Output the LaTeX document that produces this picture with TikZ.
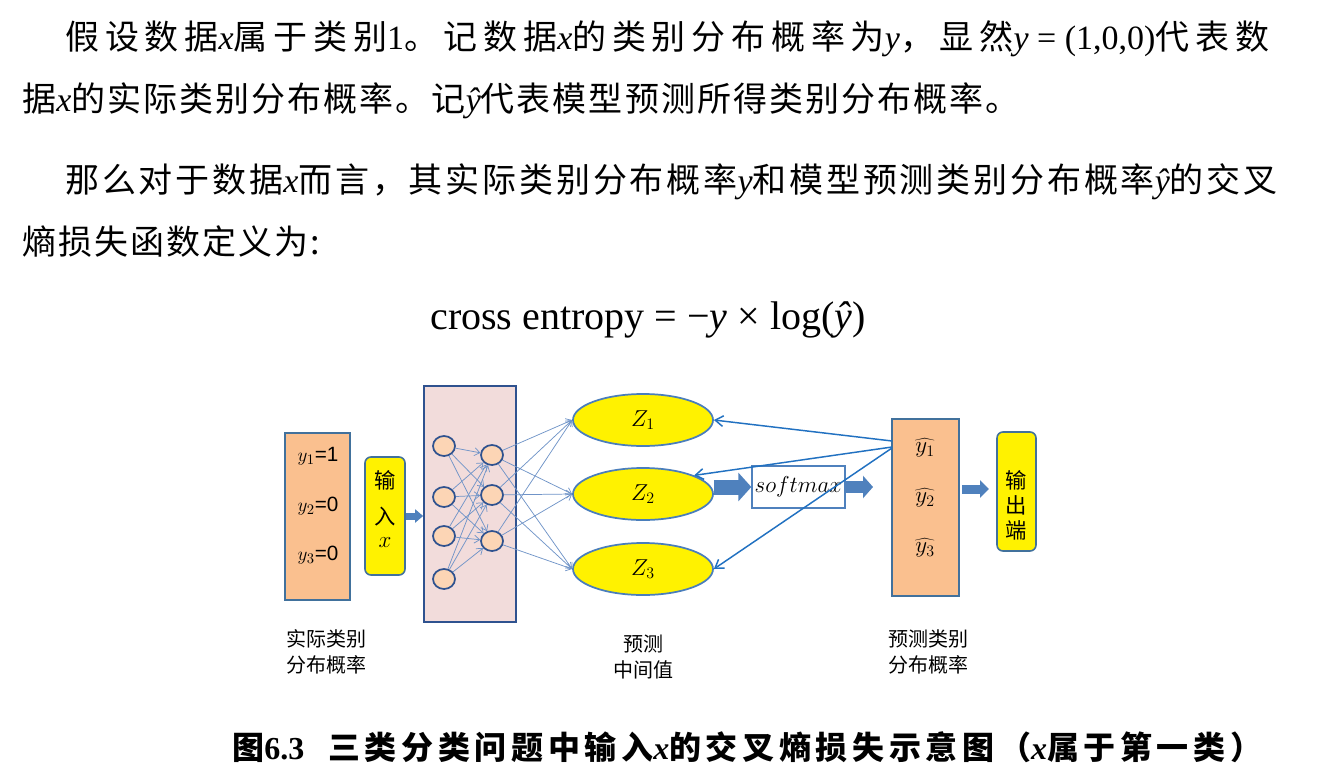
\documentclass[tikz,border=0pt]{standalone}
\usepackage{fontspec}
\setmainfont{Liberation Serif}
\newfontfamily\cjk[LetterSpace=6]{Noto Sans CJK SC}
\newfontfamily\cjkja[LetterSpace=17]{Noto Sans CJK SC}
\newfontfamily\cjkjb[LetterSpace=8.3]{Noto Sans CJK SC}
\newfontfamily\capfont[LetterSpace=14.5]{Noto Sans CJK SC}
\newfontfamily\cjklab{Noto Sans CJK SC}
\newfontfamily\lab{Liberation Sans}
\newcommand\mi[1]{{\rmfamily\itshape #1}}
\newcommand\mr[1]{{\rmfamily #1}}
\usetikzlibrary{arrows.meta,shapes.geometric}
\definecolor{peachc}{HTML}{FAC08F}
\definecolor{bordblue}{HTML}{41719C}
\definecolor{pinkc}{HTML}{F2DCDB}
\definecolor{neuronc}{HTML}{FCD5B5}
\definecolor{neurob}{HTML}{2F528F}
\definecolor{thinarr}{HTML}{7094C8}
\definecolor{fbarr}{HTML}{2171C1}
\definecolor{blkc}{HTML}{4F81BD}
\definecolor{zbord}{HTML}{4A7EBB}
\begin{document}
\begin{tikzpicture}[x=0.75pt,y=-0.75pt,
  bodyline/.style={anchor=base west,inner sep=0pt,font=\fontsize{25.5pt}{30pt}\selectfont},
  peachbox/.style={draw=bordblue,fill=peachc,line width=1.3pt,inner sep=0pt},
  yellowbox/.style={draw=bordblue,fill=yellow,line width=1.2pt,rounded corners=4.5pt,inner sep=0pt},
  zell/.style={ellipse,draw=zbord,fill=yellow,line width=1.3pt,minimum width=105pt,minimum height=39pt,inner sep=0pt,font=\fontsize{17pt}{20pt}\selectfont},
  neuron/.style={ellipse,draw=neurob,fill=neuronc,line width=1.3pt,minimum width=16.5pt,minimum height=15pt,inner sep=0pt},
  thinarrow/.style={draw=thinarr,line width=0.55pt,-{Straight Barb[length=4pt,width=6pt]}},
  fbarrow/.style={draw=fbarr,line width=1.1pt,-{Straight Barb[length=6pt,width=8pt]}},
  boxtext/.style={inner sep=0pt,font=\fontsize{15.5pt}{18pt}\selectfont},
  hattext/.style={inner sep=0pt,font=\fontsize{17.5pt}{20pt}\selectfont},
  vtext/.style={inner sep=0pt,font=\cjklab\fontsize{16pt}{18pt}\selectfont},
  bottomlab/.style={align=center,inner sep=0pt,font=\cjklab\fontsize{15pt}{19pt}\selectfont}
]
\useasboundingbox (0,0) rectangle (1319,781);
\fill[white] (0,0) rectangle (1319,781);

% body text
\node[bodyline] (l1) at (65,50) {\cjkja 假设数据\mi{x}属于类别\mr{1}。记数据\mi{x}的类别分布概率为\mi{y}，显然\mi{y}\mr{ = (1,0,0)}代表数};
\node[bodyline] (l2) at (22,112) {\cjk 据\mi{x}的实际类别分布概率。记\mi{ŷ}代表模型预测所得类别分布概率。};
\node[bodyline] (l3) at (65,192) {\cjkjb 那么对于数据\mi{x}而言，其实际类别分布概率\mi{y}和模型预测类别分布概率\mi{ŷ}的交叉};
\node[bodyline] (l4) at (22,254) {\cjk 熵损失函数定义为:};
\node[inner sep=0pt,font=\fontsize{30pt}{34pt}\selectfont] (formula) at (648,320) {cross entropy = −\textit{y} × log(\textit{ŷ})};

% boxes
\node[peachbox,minimum width=48.75pt,minimum height=125.25pt] (ybox) at (317.5,516.5) {};
\node[boxtext] (y1) at (318,456) {$y_1${\lab =1}};
\node[boxtext] (y2) at (318,506) {$y_2${\lab =0}};
\node[boxtext] (y3) at (318,555) {$y_3${\lab =0}};

\node[yellowbox,minimum width=30pt,minimum height=88.5pt] (inbox) at (385,516) {};
\node[vtext] (in1) at (385,480) {输};
\node[vtext] (in2) at (385,517) {入};
\node[vtext,font=\fontsize{16pt}{18pt}\selectfont] (in3) at (385,543) {$x$};

\node[draw=neurob,fill=pinkc,line width=1.3pt,minimum width=69pt,minimum height=177pt,inner sep=0pt] (net) at (470,504) {};

\node[neuron] (i1) at (444,446) {};
\node[neuron] (i2) at (444,497) {};
\node[neuron] (i3) at (444,536) {};
\node[neuron] (i4) at (444,579) {};
\node[neuron] (h1) at (492,455) {};
\node[neuron] (h2) at (492,495) {};
\node[neuron] (h3) at (492,541) {};

\node[zell] (Z1) at (643,420) {$Z_1$};
\node[zell] (Z2) at (643,494) {$Z_2$};
\node[zell] (Z3) at (643,569) {$Z_3$};

\node[draw=blkc,fill=white,line width=1pt,minimum width=69.75pt,minimum height=31.5pt,inner sep=0pt,font=\fontsize{16pt}{18pt}\selectfont] (soft) at (798.5,487) {$softmax$};

\node[peachbox,minimum width=50.25pt,minimum height=132.75pt] (rbox) at (925.5,507.5) {};
\node[hattext] (r1) at (925,448) {$\widehat{y_1}$};
\node[hattext] (r2) at (925,498) {$\widehat{y_2}$};
\node[hattext] (r3) at (925,548) {$\widehat{y_3}$};

\node[yellowbox,minimum width=29.25pt,minimum height=89.25pt] (outbox) at (1016.5,491.5) {};
\node[vtext] (o1) at (1016.5,480) {输};
\node[vtext] (o2) at (1016.5,505) {出};
\node[vtext] (o3) at (1016.5,530) {端};

% network connections
\foreach \i in {1,...,4}{\foreach \j in {1,2,3}{\draw[thinarrow] (i\i) -- (h\j);}}
\foreach \j in {1,2,3}{\foreach \k in {1,2,3}{\draw[thinarrow] (h\j) -- (Z\k.west);}}

% block arrows
\coordinate (a3e) at (873,487);
\coordinate (a4s) at (962,489);
\coordinate (a4e) at (989,489);
\draw[blkc,line width=5.25pt,-{Triangle[length=6pt,width=9.75pt]}] (inbox.east) -- (net.west |- inbox.east);
\draw[blkc,line width=11.25pt,-{Triangle[length=9.75pt,width=21pt]}] (Z2.east |- soft.west) -- (soft.west);
\draw[blkc,line width=9pt,-{Triangle[length=7.5pt,width=16.5pt]}] (soft.east) -- (a3e);
\draw[blkc,line width=6.75pt,-{Triangle[length=6.75pt,width=12.75pt]}] (a4s) -- (a4e);

% feedback arrows
\coordinate (fb1) at (892,441);
\coordinate (fb2) at (892,447);
\coordinate (fb3) at (892,448);
\draw[fbarrow] (fb1) -- (Z1.east);
\draw[fbarrow] (fb2) -- (Z2.20);
\draw[fbarrow] (fb3) -- (Z3.east);

% bottom labels
\node[bottomlab] (lb1) at (326,652) {实际类别\\分布概率};
\node[bottomlab] (lb2) at (643,657) {预测\\中间值};
\node[bottomlab] (lb3) at (928,652) {预测类别\\分布概率};

% caption
\node[anchor=base west,inner sep=0pt,font=\fontsize{24pt}{28pt}\selectfont] (cap) at (232,759) {\capfont\bfseries 图{\rmfamily\bfseries 6.3}\ \ 三类分类问题中输入{\rmfamily\bfseries\itshape x}的交叉熵损失示意图（{\rmfamily\bfseries\itshape x}属于第一类）};
\end{tikzpicture}
\end{document}
